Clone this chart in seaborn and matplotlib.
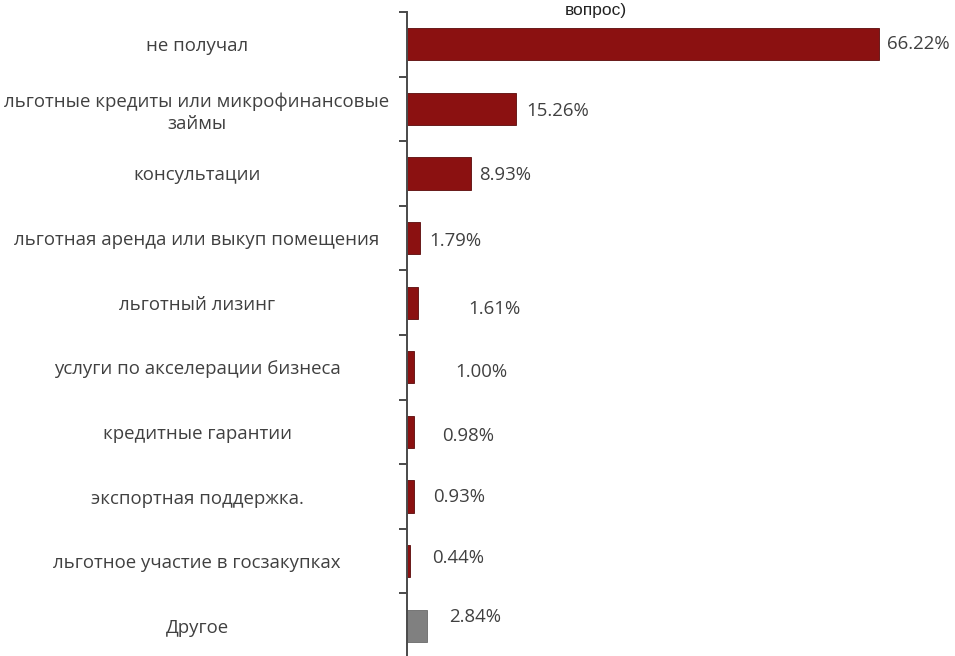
import matplotlib
matplotlib.use("Agg")
import matplotlib.pyplot as plt
import seaborn as sns
import numpy as np
import pandas as pd

categories = [
    "не получал",
    "льготные кредиты или микрофинансовые\nзаймы",
    "консультации",
    "льготная аренда или выкуп помещения",
    "льготный лизинг",
    "услуги по акселерации бизнеса",
    "кредитные гарантии",
    "экспортная поддержка.",
    "льготное участие в госзакупках",
    "Другое",
]
values = [66.22, 15.26, 8.93, 1.79, 1.61, 1.00, 0.98, 0.93, 0.44, 2.84]
value_labels = ["66.22%", "15.26%", "8.93%", "1.79%", "1.61%",
                "1.00%", "0.98%", "0.93%", "0.44%", "2.84%"]

# label offsets from bar end, in pixels (dx right, dy down)
label_dx = [8, 10, 8, 10, 50, 41, 28, 19, 22, 22]
label_dy = [0, 2, 1, 3, 6, 5, 4, 0, -3, -9]

sns.set_style("white")
plt.rcParams["font.family"] = ["Open Sans", "DejaVu Sans"]

df = pd.DataFrame({"cat": categories, "val": values})
palette = ["#8b1111"] * 9 + ["#808080"]

W, H = 955, 656
fig = plt.figure(figsize=(W / 100, H / 100), dpi=100)
ax = fig.add_axes([407 / W, -2 / H, 1 - 407 / W, 646 / H])

sns.barplot(data=df, x="val", y="cat", hue="cat", palette=palette,
            legend=False, width=0.5, ax=ax, orient="h", saturation=1,
            edgecolor="#5a0a0a", linewidth=0.6)
# grey bar edge
ax.patches[-1].set_edgecolor("#6a6a6a")

ax.set_xlim(0, (W - 407) / 7.13)
ax.set_ylim(9.5, -0.5)
ax.set_xlabel("")
ax.set_ylabel("")
ax.set_xticks([])

for s in ["top", "right", "bottom"]:
    ax.spines[s].set_visible(False)
ax.spines["left"].set_color("#4a4a4a")
ax.spines["left"].set_linewidth(1.4)

ax.set_yticks(range(len(categories)))
ax.set_yticklabels(categories, ha="center", fontsize=13.4, color="#404040",
                   linespacing=1.3)
ax.tick_params(axis="y", which="major", length=0, pad=210 * 0.72)
ax.set_yticks(np.arange(-0.5, len(categories), 1.0), minor=True)
ax.tick_params(axis="y", which="minor", length=8 * 0.72, width=1.4,
               color="#4a4a4a", direction="out", left=True)

for i, (v, lab) in enumerate(zip(values, value_labels)):
    ax.annotate(lab, xy=(v, i), xytext=(label_dx[i] * 0.72, -label_dy[i] * 0.72),
                textcoords="offset points", ha="left", va="center",
                fontsize=13.4, color="#404040")

fig.text(565 / W, 1 - 10 / H, "вопрос)", ha="left", va="center",
         fontsize=12.5, color="#222222", family=["Liberation Sans", "DejaVu Sans"])

fig.savefig("out.png", dpi=100)
